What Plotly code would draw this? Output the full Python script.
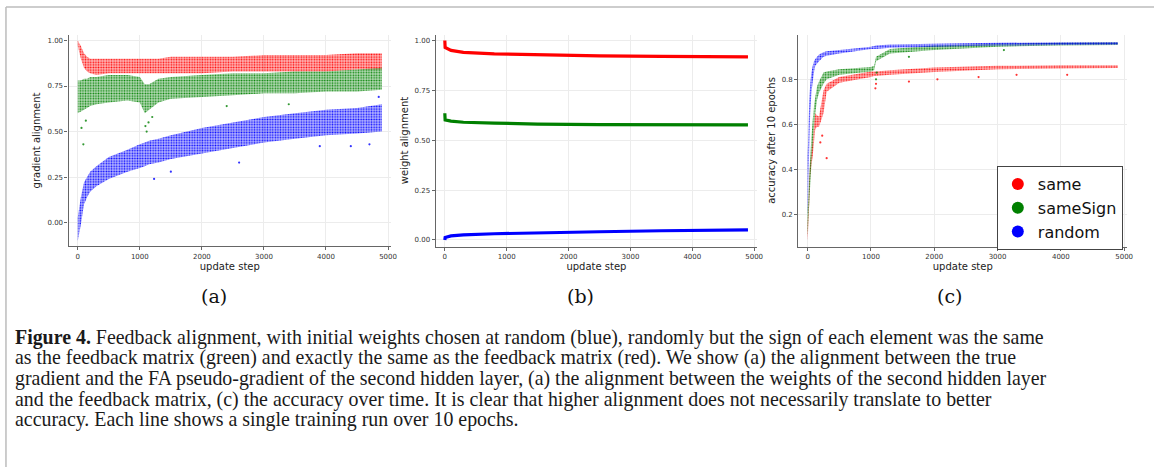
import plotly.graph_objects as go

W, H = 1160, 467

# ---------------- data ----------------
# (a) gradient alignment: band envelopes of the dense scatter clouds
a_steps = [0, 50, 100, 150, 200, 300, 500, 800, 1000, 1080, 1150, 1300, 1500, 2000, 2500, 3000, 3500, 4000, 4500, 4900]
a_same_lo = [0.97, 0.90, 0.85, 0.83, 0.82, 0.81, 0.82, 0.82, 0.82, 0.82, 0.82, 0.82, 0.82, 0.82, 0.83, 0.83, 0.83, 0.83, 0.84, 0.84]
a_same_hi = [1.00, 0.97, 0.93, 0.91, 0.90, 0.90, 0.90, 0.90, 0.90, 0.90, 0.90, 0.90, 0.91, 0.91, 0.91, 0.92, 0.92, 0.92, 0.93, 0.93]
a_sign_lo = [0.60, 0.61, 0.62, 0.63, 0.64, 0.65, 0.66, 0.67, 0.66, 0.60, 0.62, 0.66, 0.68, 0.69, 0.70, 0.71, 0.71, 0.72, 0.72, 0.73]
a_sign_hi = [0.78, 0.78, 0.79, 0.79, 0.80, 0.80, 0.81, 0.81, 0.80, 0.76, 0.76, 0.79, 0.80, 0.81, 0.82, 0.82, 0.83, 0.83, 0.84, 0.85]
a_rand_lo = [-0.10, -0.01, 0.10, 0.14, 0.17, 0.20, 0.24, 0.28, 0.30, 0.31, 0.32, 0.33, 0.35, 0.38, 0.41, 0.44, 0.46, 0.48, 0.49, 0.50]
a_rand_hi = [0.03, 0.14, 0.22, 0.25, 0.28, 0.31, 0.36, 0.40, 0.43, 0.44, 0.45, 0.46, 0.48, 0.52, 0.55, 0.58, 0.60, 0.62, 0.63, 0.65]
# sparse outliers in (a)
a_sign_out_x = [60, 90, 130, 1090, 1110, 1140, 1200, 2400, 3400]
a_sign_out_y = [0.52, 0.43, 0.56, 0.53, 0.50, 0.55, 0.58, 0.64, 0.65]
a_rand_out_x = [1230, 1500, 2600, 3900, 4400, 4700, 4850]
a_rand_out_y = [0.24, 0.28, 0.33, 0.42, 0.42, 0.43, 0.69]

# (b) weight alignment lines
b_steps = [0, 5, 100, 300, 800, 1500, 2500, 3500, 4900]
b_same = [1.00, 0.965, 0.950, 0.940, 0.933, 0.928, 0.923, 0.920, 0.918]
b_sign = [0.635, 0.602, 0.596, 0.590, 0.586, 0.581, 0.578, 0.577, 0.577]
b_rand = [0.000, 0.012, 0.020, 0.025, 0.031, 0.036, 0.041, 0.046, 0.050]

# (c) accuracy after 10 epochs: band envelopes
c_steps = [0, 25, 40, 60, 80, 100, 120, 150, 180, 250, 300, 500, 1000, 1050, 1080, 1300, 2000, 3000, 4000, 4900]
c_same_lo = [0.08, 0.25, 0.37, 0.42, 0.46, 0.52, 0.58, 0.59, 0.59, 0.65, 0.745, 0.785, 0.81, 0.815, 0.815, 0.82, 0.833, 0.845, 0.848, 0.850]
c_same_hi = [0.16, 0.35, 0.43, 0.48, 0.53, 0.60, 0.65, 0.64, 0.635, 0.75, 0.78, 0.81, 0.835, 0.835, 0.835, 0.84, 0.853, 0.860, 0.862, 0.863]
c_sign_lo = [0.105, 0.25, 0.33, 0.43, 0.52, 0.59, 0.65, 0.71, 0.74, 0.78, 0.80, 0.82, 0.835, 0.84, 0.88, 0.915, 0.930, 0.945, 0.950, 0.952]
c_sign_hi = [0.22, 0.37, 0.45, 0.545, 0.62, 0.68, 0.72, 0.77, 0.79, 0.83, 0.835, 0.845, 0.855, 0.86, 0.90, 0.935, 0.950, 0.958, 0.962, 0.965]
c_rand_lo = [0.19, 0.50, 0.65, 0.74, 0.79, 0.83, 0.86, 0.87, 0.88, 0.90, 0.905, 0.915, 0.935, 0.935, 0.935, 0.940, 0.945, 0.950, 0.952, 0.953]
c_rand_hi = [0.46, 0.70, 0.78, 0.83, 0.86, 0.88, 0.89, 0.90, 0.91, 0.92, 0.925, 0.93, 0.945, 0.948, 0.950, 0.955, 0.958, 0.962, 0.965, 0.966]
c_same_out_x = [200, 230, 300, 1070, 1080, 1600, 2050, 2700, 3300, 4100]
c_same_out_y = [0.52, 0.55, 0.45, 0.76, 0.78, 0.79, 0.80, 0.81, 0.82, 0.82]
c_sign_out_x = [1080, 1090, 1600, 3100]
c_sign_out_y = [0.80, 0.83, 0.90, 0.93]

series_names = ["same", "sameSign", "random"]
series_colors = ["#ff0000", "#008000", "#0000ff"]
rgb = {"#ff0000": "255,0,0", "#008000": "0,128,0", "#0000ff": "0,0,255"}

fig = go.Figure()


def band(steps, lo, hi, color, xa, ya):
    xs = list(steps) + list(steps)[::-1]
    ys = list(hi) + list(lo)[::-1]
    fig.add_trace(go.Scatter(
        x=xs, y=ys, xaxis=xa, yaxis=ya, mode="none", fill="toself",
        fillcolor="rgba(%s,0.3)" % rgb[color],
        fillpattern=dict(shape=".", fgcolor="rgba(%s,0.95)" % rgb[color],
                         bgcolor="rgba(%s,0.28)" % rgb[color],
                         size=2.6, solidity=0.35, fillmode="replace"),
        showlegend=False, hoverinfo="skip"))


def dots(x, y, color, xa, ya):
    fig.add_trace(go.Scatter(
        x=x, y=y, xaxis=xa, yaxis=ya, mode="markers",
        marker=dict(color=color, size=2.2, opacity=0.8),
        showlegend=False, hoverinfo="skip"))


# (a)
band(a_steps, a_same_lo, a_same_hi, series_colors[0], "x", "y")
band(a_steps, a_sign_lo, a_sign_hi, series_colors[1], "x", "y")
band(a_steps, a_rand_lo, a_rand_hi, series_colors[2], "x", "y")
dots(a_sign_out_x, a_sign_out_y, series_colors[1], "x", "y")
dots(a_rand_out_x, a_rand_out_y, series_colors[2], "x", "y")

# (b)
for yv, c in zip([b_same, b_sign, b_rand], series_colors):
    fig.add_trace(go.Scatter(x=b_steps, y=yv, xaxis="x2", yaxis="y2", mode="lines",
                             line=dict(color=c, width=3.2), showlegend=False, hoverinfo="skip"))

# (c)
band(c_steps, c_same_lo, c_same_hi, series_colors[0], "x3", "y3")
band(c_steps, c_sign_lo, c_sign_hi, series_colors[1], "x3", "y3")
band(c_steps, c_rand_lo, c_rand_hi, series_colors[2], "x3", "y3")
dots(c_same_out_x, c_same_out_y, series_colors[0], "x3", "y3")
dots(c_sign_out_x, c_sign_out_y, series_colors[1], "x3", "y3")

# legend entries
for n, c in zip(series_names, series_colors):
    fig.add_trace(go.Scatter(x=[None], y=[None], xaxis="x3", yaxis="y3", mode="markers",
                             marker=dict(color=c, size=12), name=n))


def px_x(p):
    return p / W


def px_y(p):
    return 1 - p / H


tickfont = dict(family="DejaVu Sans", size=7, color="#333")
titlefont = dict(family="DejaVu Sans", size=10, color="#222")
axis_common = dict(showline=True, linecolor="#666", linewidth=1.3, showgrid=True,
                   gridcolor="#ececec", gridwidth=0.6, zeroline=False, ticks="outside",
                   ticklen=3, tickcolor="#666", tickfont=tickfont, mirror=False)

xticks = [0, 1000, 2000, 3000, 4000, 5000]
layout = dict(
    width=W, height=H, margin=dict(l=0, r=0, t=0, b=0),
    paper_bgcolor="white", plot_bgcolor="white",
    xaxis=dict(domain=[px_x(69), px_x(393)], range=[-147, 5047], anchor="y", tickvals=xticks,
               title=dict(text="update step", font=titlefont, standoff=2), **axis_common),
    yaxis=dict(domain=[px_y(246), px_y(35)], range=[-0.128, 1.03], anchor="x",
               tickvals=[0, 0.25, 0.5, 0.75, 1.0], tickformat=".2f",
               title=dict(text="gradient alignment", font=titlefont, standoff=4), **axis_common),
    xaxis2=dict(domain=[px_x(438), px_x(761)], range=[-147, 5047], anchor="y2", tickvals=xticks,
                title=dict(text="update step", font=titlefont, standoff=2), **axis_common),
    yaxis2=dict(domain=[px_y(246.5), px_y(34.5)], range=[-0.033, 1.03], anchor="x2",
                tickvals=[0, 0.25, 0.5, 0.75, 1.0], tickformat=".2f",
                title=dict(text="weight alignment", font=titlefont, standoff=4), **axis_common),
    xaxis3=dict(domain=[px_x(802.5), px_x(1133)], range=[-147, 5047], anchor="y3", tickvals=xticks,
                title=dict(text="update step", font=titlefont, standoff=2), **axis_common),
    yaxis3=dict(domain=[px_y(246.5), px_y(34.5)], range=[0.058, 0.999], anchor="x3",
                tickvals=[0.2, 0.4, 0.6, 0.8], tickformat=".1f",
                title=dict(text="accuracy after 10 epochs", font=titlefont, standoff=4), **axis_common),
    legend=dict(x=px_x(1002), y=px_y(166), xanchor="left", yanchor="top",
                font=dict(family="DejaVu Sans", size=16, color="#111"),
                bordercolor="#444", borderwidth=1, bgcolor="white",
                tracegroupgap=0, itemwidth=30),
    showlegend=True,
)
fig.update_layout(**layout)

# panel labels
for lab, cx in [("(a)", 215), ("(b)", 584), ("(c)", 954)]:
    fig.add_annotation(text=lab, x=px_x(cx), y=px_y(296), xref="paper", yref="paper",
                       showarrow=False, xanchor="center", yanchor="middle",
                       font=dict(family="DejaVu Serif", size=19, color="#111"))

caption_lines = [
    "<b>Figure 4.</b> Feedback alignment, with initial weights chosen at random (blue), randomly but the sign of each element was the same",
    "as the feedback matrix (green) and exactly the same as the feedback matrix (red). We show (a) the alignment between the true",
    "gradient and the FA pseudo-gradient of the second hidden layer, (a) the alignment between the weights of the second hidden layer",
    "and the feedback matrix, (c) the accuracy over time. It is clear that higher alignment does not necessarily translate to better",
    "accuracy. Each line shows a single training run over 10 epochs.",
]
for i, line in enumerate(caption_lines):
    fig.add_annotation(text=line, x=px_x(13), y=px_y(337 + 20.7 * i), xref="paper", yref="paper",
                       showarrow=False, xanchor="left", yanchor="middle",
                       font=dict(family="Liberation Serif", size=19.9, color="#1a1a1a"))

# figure frame
fig.add_shape(type="line", xref="paper", yref="paper", x0=px_x(6), x1=px_x(6), y0=0, y1=px_y(7),
              line=dict(color="#bcbcbc", width=1.5))
fig.add_shape(type="line", xref="paper", yref="paper", x0=px_x(6), x1=1, y0=px_y(7), y1=px_y(7),
              line=dict(color="#bcbcbc", width=1.5))

fig.write_html("out.html", config={"displayModeBar": False},
               post_script="document.body.style.margin='0';document.body.style.overflow='hidden';")
